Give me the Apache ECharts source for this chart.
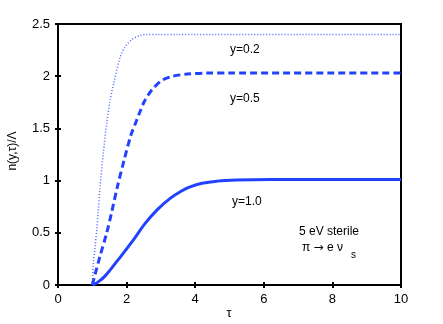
<!DOCTYPE html>
<html>
<head>
<meta charset="utf-8">
<script src="https://cdn.jsdelivr.net/npm/echarts@6/dist/echarts.min.js"></script>
<style>
  html, body { margin: 0; padding: 0; background: #fff; }
  #chart { width: 443px; height: 324px; }
</style>
</head>
<body>
<div id="chart"></div>
<script>
// curves, tau vs n(y,tau)/Lambda
const tauY02 = [1.0, 1.03, 1.08, 1.13, 1.17, 1.22, 1.32, 1.42, 1.52, 1.63, 1.81, 1.95, 2.15, 2.39, 2.6, 2.9, 3.5, 10]
const nY02 = [0, 0.2, 0.36, 0.53, 0.69, 0.92, 1.26, 1.55, 1.77, 1.94, 2.18, 2.28, 2.35, 2.39, 2.40, 2.40, 2.40, 2.40]

const tauY05 = [1.0, 1.08, 1.22, 1.42, 1.56, 1.73, 1.93, 2.13, 2.26, 2.39, 2.52, 2.74, 3.03, 3.35, 3.76, 4.34, 5.0, 10]
const nY05 = [0, 0.1, 0.27, 0.50, 0.69, 0.94, 1.20, 1.44, 1.55, 1.66, 1.76, 1.87, 1.96, 2.00, 2.02, 2.03, 2.03, 2.03]

const tauY10 = [1.0, 1.15, 1.37, 1.75, 2.15, 2.54, 2.89, 3.27, 3.6, 3.85, 4.2, 4.64, 5.2, 6.2, 10]
const nY10 = [0, 0.025, 0.085, 0.24, 0.41, 0.59, 0.72, 0.83, 0.90, 0.94, 0.975, 0.995, 1.005, 1.01, 1.01]

const seriesLabels = ['y=0.2', 'y=0.5', 'y=1.0']

const pairs = (xs, ys) => xs.map((x, i) => [x, ys[i]])

const font = 'Liberation Sans, Arial, sans-serif'
const blue = '#2242ff'

const chart = echarts.init(document.getElementById('chart'))

// box frame: grid border + axes on all four sides
// inside ticks made the axis lines vanish here, so ticks stay outside
const frameAxis = (extra) => Object.assign({
  type: 'value',
  axisLine: { show: true, lineStyle: { color: '#000', width: 2 } },
  axisTick: { show: true, length: 3, lineStyle: { color: '#000', width: 2 } },
  splitLine: { show: false },
  axisLabel: { color: '#000', fontSize: 13, fontFamily: font, margin: 8 }
}, extra)

chart.setOption({
  animation: false,
  grid: { left: 58, right: 42, top: 24, bottom: 39, show: true, borderColor: '#000', borderWidth: 2 },
  xAxis: [
    frameAxis({ min: 0, max: 10, interval: 2, position: 'bottom' }),
    frameAxis({ min: 0, max: 10, interval: 2, position: 'top', axisLabel: { show: false } })
  ],
  yAxis: [
    frameAxis({ min: 0, max: 2.5, interval: 0.5, position: 'left' }),
    frameAxis({ min: 0, max: 2.5, interval: 0.5, position: 'right', axisLabel: { show: false } })
  ],
  series: [
    {
      name: seriesLabels[0], type: 'line', data: pairs(tauY02, nY02),
      smooth: 0.3, showSymbol: false,
      lineStyle: { color: '#4a66ff', width: 1.5, type: [1, 2] }
    },
    {
      name: seriesLabels[1], type: 'line', data: pairs(tauY05, nY05),
      smooth: 0.3, showSymbol: false,
      lineStyle: { color: blue, width: 3, type: [7, 4] }
    },
    {
      name: seriesLabels[2], type: 'line', data: pairs(tauY10, nY10),
      smooth: 0.4, showSymbol: false,
      lineStyle: { color: blue, width: 3 }
    }
  ],
  graphic: [
    { type: 'text', x: 229, y: 313, style: { text: 'τ', font: '13px ' + font, fill: '#000', align: 'center', verticalAlign: 'middle' } },
    { type: 'text', x: 13, y: 151, rotation: Math.PI / 2, style: { text: 'n(y,τ)/Λ', font: '12px ' + font, fill: '#000', align: 'center', verticalAlign: 'middle' } },
    { type: 'text', left: 230, top: 44, style: { text: seriesLabels[0], font: '12px ' + font, fill: '#000' } },
    { type: 'text', left: 230, top: 93, style: { text: seriesLabels[1], font: '12px ' + font, fill: '#000' } },
    { type: 'text', left: 232, top: 196, style: { text: seriesLabels[2], font: '12px ' + font, fill: '#000' } },
    { type: 'text', left: 299, top: 226, style: { text: '5 eV sterile', font: '12px ' + font, fill: '#000' } },
    { type: 'text', left: 302, top: 242, style: {
        text: '{a|π }{b|→}{a| e ν}', fill: '#000',
        rich: {
          a: { fontSize: 12, fontFamily: font },
          b: { fontSize: 12, fontFamily: 'DejaVu Sans' }
        }
    } },
    { type: 'text', left: 351, top: 250, style: { text: 's', font: '10px ' + font, fill: '#000' } }
  ]
})
</script>
</body>
</html>
